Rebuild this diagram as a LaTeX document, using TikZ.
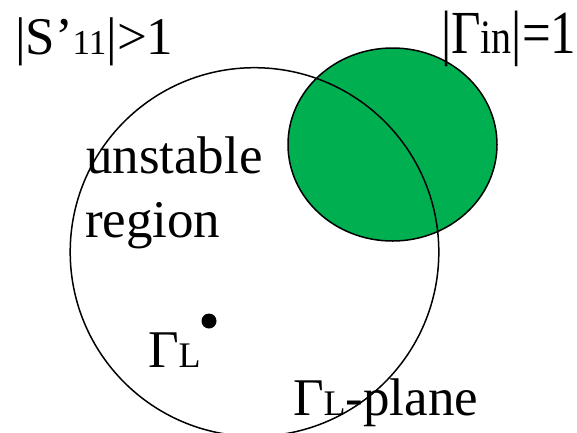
\documentclass[tikz,border=0pt]{standalone}
\usepackage{fontspec}
\setmainfont{Liberation Serif}
\definecolor{zgreen}{RGB}{0,176,80}
\begin{document}
\begin{tikzpicture}[x=1pt,y=-1pt,
  lbl/.style={anchor=base west,inner sep=0pt,outer sep=0pt},
  big/.style={font=\fontsize{53}{60}\selectfont}]
\useasboundingbox (0,0) rectangle (577,432);
\draw[line width=1.5pt,fill=zgreen] (392.5,144.5) ellipse[x radius=104.5,y radius=96.5];
\begin{scope}
\clip (0,0) rectangle (577,432);
\draw[line width=1.5pt] (254.5,252) circle[radius=184.3];
\end{scope}
\node[lbl,big] (s11) at (15,54) {|S’{\fontsize{35}{40}\selectfont 11}|>1};
\node[lbl,font=\fontsize{51}{60}\selectfont] (gin) at (441,53) {\scalebox{1}[1.2]{|Γ{\fontsize{40}{40}\selectfont in}|=1}};
\node[lbl,big] (unst) at (86,173) {unstable};
\node[lbl,big] (reg) at (85,237) {region};
\fill (209,321) circle[radius=7.5] coordinate (dot);
\node[lbl,big] (gl) at (148,367) {Γ{\fontsize{36}{40}\selectfont L}};
\node[lbl,big] (plane) at (293,415) {Γ{\fontsize{36}{40}\selectfont L}-plane};
\end{tikzpicture}
\end{document}
